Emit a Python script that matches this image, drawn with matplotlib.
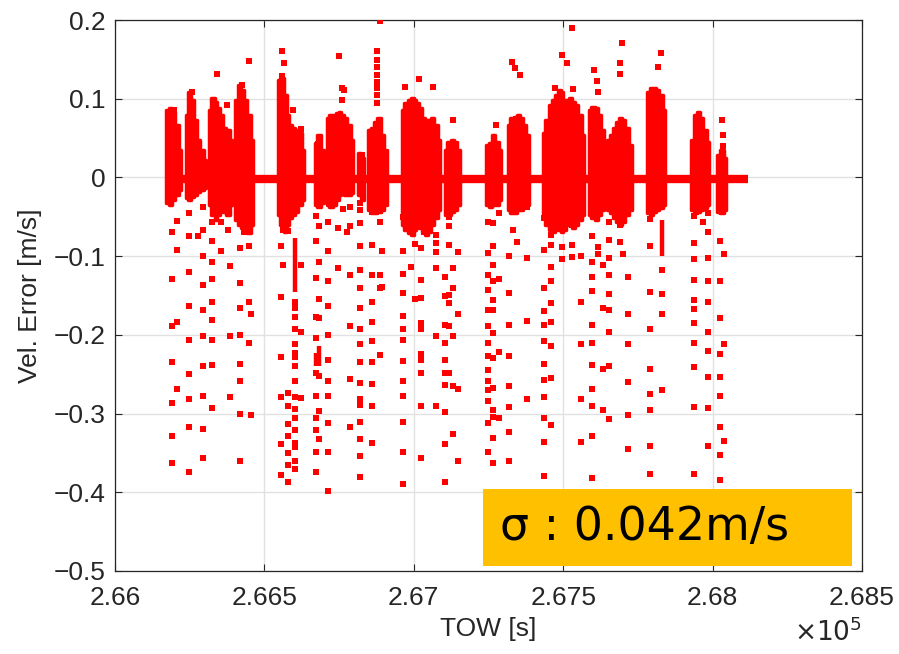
import matplotlib
matplotlib.use('Agg')
import matplotlib.pyplot as plt
from matplotlib.patches import Rectangle
from matplotlib.ticker import FixedLocator

plt.rcParams['font.family'] = ['Liberation Sans', 'DejaVu Sans']
plt.rcParams['axes.unicode_minus'] = True

# ---------------- data ----------------
# near-zero band of the error
band_start, band_end, band_level = 266177, 268118, -0.002

# dense bursts: sample columns (time [s], upper, lower)
burst_t = [266177, 266187, 266197, 266207, 266217,
           266241, 266251, 266261, 266271, 266281, 266291, 266301,
           266318, 266328, 266338, 266348, 266358, 266368, 266378, 266388,
           266408, 266418, 266428, 266438, 266448, 266458,
           266549, 266559, 266569, 266579, 266589, 266599, 266609, 266619, 266629,
           266673, 266683, 266693,
           266713, 266723, 266733, 266743, 266753, 266763, 266773, 266783, 266793,
           266817, 266830,
           266853, 266863, 266873, 266884, 266894, 266904,
           266964, 266974, 266984, 266994, 267004, 267014, 267024, 267034, 267044,
           267054, 267064, 267074, 267084,
           267108, 267118, 267128, 267138, 267148,
           267248, 267258, 267268, 267278, 267288,
           267319, 267329, 267339, 267349, 267359, 267369, 267379,
           267436, 267446, 267456, 267466, 267476, 267486, 267496, 267506, 267516,
           267526, 267536, 267546, 267556, 267566,
           267590, 267600, 267610, 267620, 267630,
           267653, 267663, 267673, 267683, 267693, 267703, 267713, 267724,
           267787, 267797, 267807, 267817, 267827, 267837,
           267934, 267944, 267954, 267964, 267974, 267984,
           268021, 268031, 268041]
burst_hi = [0.086, 0.088, 0.083, 0.067, 0.035,
            0.079, 0.108, 0.098, 0.073, 0.048, 0.035, 0.022,
            0.086, 0.101, 0.096, 0.088, 0.079, 0.063, 0.060, 0.048,
            0.098, 0.117, 0.111, 0.098, 0.079, 0.048,
            0.124, 0.126, 0.105, 0.079, 0.067, 0.063, 0.060, 0.056, 0.035,
            0.044, 0.054, 0.035,
            0.075, 0.079, 0.079, 0.082, 0.083, 0.079, 0.075, 0.067, 0.048,
            0.031, 0.025,
            0.060, 0.063, 0.070, 0.075, 0.054, 0.035,
            0.086, 0.094, 0.098, 0.101, 0.098, 0.094, 0.088, 0.075, 0.073,
            0.073, 0.075, 0.067, 0.048,
            0.035, 0.045, 0.048, 0.045, 0.035,
            0.041, 0.044, 0.054, 0.045, 0.035,
            0.067, 0.075, 0.077, 0.079, 0.075, 0.067, 0.054,
            0.056, 0.073, 0.092, 0.098, 0.105, 0.111, 0.108, 0.098, 0.098,
            0.101, 0.096, 0.092, 0.079, 0.054,
            0.086, 0.090, 0.088, 0.079, 0.060,
            0.048, 0.054, 0.063, 0.070, 0.075, 0.073, 0.063, 0.041,
            0.108, 0.114, 0.114, 0.111, 0.105, 0.086,
            0.048, 0.079, 0.083, 0.075, 0.060, 0.045,
            0.029, 0.035, 0.025]
burst_lo = [-0.032, -0.035, -0.029, -0.022, -0.016,
            -0.026, -0.029, -0.025, -0.022, -0.018, -0.016, -0.013,
            -0.035, -0.048, -0.054, -0.048, -0.041, -0.044, -0.048, -0.035,
            -0.054, -0.060, -0.064, -0.067, -0.070, -0.060,
            -0.048, -0.060, -0.069, -0.060, -0.051, -0.048, -0.044, -0.035, -0.029,
            -0.035, -0.037, -0.032,
            -0.035, -0.037, -0.035, -0.029, -0.022, -0.020, -0.022, -0.022, -0.020,
            -0.022, -0.029,
            -0.041, -0.045, -0.045, -0.044, -0.041, -0.035,
            -0.060, -0.067, -0.070, -0.073, -0.067, -0.060, -0.064, -0.069, -0.073,
            -0.069, -0.060, -0.051, -0.041,
            -0.048, -0.048, -0.044, -0.041, -0.035,
            -0.035, -0.037, -0.035, -0.035, -0.029,
            -0.041, -0.045, -0.045, -0.041, -0.041, -0.037, -0.035,
            -0.048, -0.060, -0.067, -0.069, -0.064, -0.067, -0.069, -0.067, -0.060,
            -0.060, -0.064, -0.060, -0.054, -0.048,
            -0.048, -0.051, -0.054, -0.048, -0.041,
            -0.041, -0.045, -0.051, -0.056, -0.060, -0.056, -0.048, -0.041,
            -0.045, -0.048, -0.044, -0.041, -0.039, -0.035,
            -0.041, -0.045, -0.044, -0.041, -0.039, -0.035,
            -0.044, -0.045, -0.041]

# continuous runs of samples (time, upper, lower)
run_t = [266602, 266673, 266683, 267832]
run_hi = [-0.077, -0.223, -0.214, -0.054]
run_lo = [-0.145, -0.240, -0.240, -0.100]

# scattered negative outliers, grouped by time column
col_t = [266190, 266207, 266249, 266279, 266294, 266326, 266355, 266379, 266386,
         266418, 266433, 266448, 266455, 266556, 266563, 266580, 266602, 266621,
         266673, 266683, 266712, 266747, 266764, 266775, 266786, 266820, 266859,
         266887, 266895, 266965, 266991, 267004, 267024, 267035, 267074, 267104,
         267118, 267130, 267147, 267247, 267266, 267286, 267320, 267333, 267344,
         267380, 267437, 267458, 267495, 267528, 267560, 267597, 267615, 267632,
         267653, 267690, 267700, 267717, 267790, 267832, 267938, 267967, 267984,
         268025, 268038]
col_v = [
    [-0.069, -0.129, -0.189, -0.235, -0.286, -0.328, -0.363],
    [-0.055, -0.092, -0.184, -0.269],
    [-0.045, -0.075, -0.120, -0.163, -0.206, -0.250, -0.281, -0.317, -0.374],
    [-0.074],
    [-0.038, -0.067, -0.100, -0.137, -0.169, -0.202, -0.239, -0.278, -0.319, -0.357],
    [-0.057, -0.081, -0.107, -0.129, -0.158, -0.181, -0.206, -0.238, -0.293],
    [-0.057, -0.093],
    [-0.067],
    [-0.112, -0.201, -0.279],
    [-0.050, -0.090, -0.134, -0.166, -0.200, -0.237, -0.259, -0.300, -0.360],
    [-0.069],
    [-0.087, -0.158, -0.210],
    [-0.174, -0.302],
    [-0.087, -0.152, -0.228, -0.279, -0.339, -0.378],
    [-0.111, -0.067],
    [-0.068, -0.274, -0.291, -0.313, -0.329, -0.350, -0.365, -0.387],
    [-0.158, -0.166, -0.177, -0.193, -0.212, -0.223, -0.228, -0.239, -0.259,
     -0.279, -0.294, -0.305, -0.321, -0.337, -0.343, -0.360, -0.371],
    [-0.111, -0.197, -0.280],
    [-0.049, -0.081, -0.128, -0.177, -0.204, -0.248, -0.278, -0.306, -0.321, -0.349, -0.374],
    [-0.062, -0.107, -0.155, -0.179, -0.252, -0.297, -0.332],
    [-0.056, -0.093, -0.131, -0.163, -0.200, -0.232, -0.259, -0.278, -0.312, -0.349, -0.398],
    [-0.064, -0.115],
    [-0.040],
    [-0.069],
    [-0.038, -0.062, -0.124, -0.189, -0.256, -0.317],
    [-0.032, -0.041, -0.058, -0.087, -0.117, -0.141, -0.166, -0.193, -0.212, -0.235,
     -0.261, -0.282, -0.289, -0.311, -0.332, -0.354, -0.380],
    [-0.044, -0.086, -0.124, -0.158, -0.184, -0.208, -0.235, -0.263, -0.291, -0.337],
    [-0.043, -0.057, -0.124, -0.141, -0.225],
    [-0.094, -0.139],
    [-0.050, -0.093, -0.123, -0.147, -0.176, -0.192, -0.207, -0.233, -0.258, -0.278,
     -0.311, -0.349, -0.389],
    [-0.114],
    [-0.084, -0.155],
    [-0.090, -0.130, -0.153, -0.185, -0.193, -0.224, -0.232, -0.249, -0.290, -0.356],
    [-0.058, -0.069],
    [-0.073, -0.083, -0.095, -0.115, -0.201, -0.290],
    [-0.126, -0.151, -0.188, -0.210, -0.232, -0.248, -0.264, -0.298, -0.339, -0.387],
    [-0.050, -0.062, -0.086, -0.149, -0.160, -0.189, -0.248],
    [-0.115, -0.141, -0.202, -0.265, -0.326],
    [-0.095, -0.174, -0.269, -0.360],
    [-0.056, -0.096, -0.124, -0.143, -0.168, -0.189, -0.210, -0.227, -0.245, -0.259,
     -0.270, -0.284, -0.312, -0.349],
    [-0.058, -0.087, -0.111, -0.132, -0.156, -0.168, -0.198, -0.229, -0.267, -0.295,
     -0.304, -0.331, -0.363],
    [-0.045, -0.129, -0.222, -0.305],
    [-0.100, -0.147, -0.188, -0.227, -0.265, -0.292, -0.324, -0.360],
    [-0.067],
    [-0.082],
    [-0.037, -0.102, -0.182, -0.282],
    [-0.052, -0.092, -0.140, -0.170, -0.188, -0.208, -0.237, -0.257, -0.279, -0.306,
     -0.336, -0.379],
    [-0.057, -0.073, -0.086, -0.114, -0.132, -0.160, -0.184, -0.214, -0.255, -0.314],
    [-0.088, -0.103],
    [-0.050, -0.060, -0.086, -0.101],
    [-0.100, -0.158, -0.212, -0.281, -0.336],
    [-0.075, -0.107, -0.126, -0.144, -0.187, -0.210, -0.238, -0.269, -0.291, -0.328, -0.382],
    [-0.088, -0.097],
    [-0.111, -0.166, -0.243, -0.296],
    [-0.056, -0.079, -0.102, -0.124, -0.148, -0.169, -0.196, -0.239, -0.307],
    [-0.060, -0.082],
    [-0.097],
    [-0.127, -0.174, -0.212, -0.260, -0.302, -0.345],
    [-0.053, -0.087, -0.145, -0.193, -0.243, -0.275, -0.296, -0.341, -0.377],
    [-0.118, -0.148, -0.174, -0.270],
    [-0.049, -0.083, -0.104, -0.130, -0.156, -0.167, -0.185, -0.210, -0.241, -0.292, -0.377],
    [-0.056],
    [-0.045, -0.069, -0.102, -0.132, -0.158, -0.196, -0.220, -0.253, -0.293, -0.341],
    [-0.081, -0.131, -0.178, -0.224, -0.253, -0.278, -0.317, -0.352, -0.384],
    [-0.097, -0.212, -0.335],
]

# scattered positive outliers
upper_t = [266887, 266449, 266558, 266567, 266558, 266751, 266878, 266878, 266878,
           266878, 266878, 266878, 266878, 266878, 266340, 266257, 266197, 266374,
           266424, 266595, 266622, 266678, 266826, 266759, 266759, 266765, 267528,
           267698, 267690, 267690, 267495, 267512, 267018, 266971, 267063, 267132,
           267328, 267339, 267355, 267275, 267603, 267612, 267617, 267472, 267532,
           267827, 267816, 268032, 268036, 268036]
upper_v = [0.1985, 0.148, 0.160, 0.146, 0.129, 0.154, 0.160, 0.149, 0.140,
           0.130, 0.121, 0.113, 0.105, 0.094, 0.131, 0.109, 0.086, 0.092,
           0.117, 0.086, 0.062, 0.043, 0.029, 0.114, 0.098, 0.111, 0.190,
           0.171, 0.145, 0.132, 0.155, 0.146, 0.125, 0.115, 0.115, 0.073,
           0.147, 0.139, 0.130, 0.067, 0.136, 0.122, 0.109, 0.113, 0.112,
           0.158, 0.140, 0.073, 0.054, 0.040]

x_ticks = [266000, 266500, 267000, 267500, 268000, 268500]
x_ticklabels = ['2.66', '2.665', '2.67', '2.675', '2.68', '2.685']
y_ticks = [0.2, 0.1, 0.0, -0.1, -0.2, -0.3, -0.4, -0.5]
y_ticklabels = ['0.2', '0.1', '0', '\u22120.1', '\u22120.2', '\u22120.3', '\u22120.4', '\u22120.5']
sigma_text = '\u03c3 : 0.042m/s'

# ---------------- drawing ----------------
RED = '#ff0000'
TXT = '#262626'
fig = plt.figure(figsize=(8.99, 6.54), dpi=100)
ax = fig.add_axes([115 / 899, 1 - 571 / 654, (862 - 115) / 899, (571 - 20) / 654])

ax.hlines(band_level, band_start, band_end, colors=RED, linewidth=6.0, zorder=3)

# group burst columns into contiguous bursts and fill each as one polygon
groups = []
cur = [0]
for i in range(1, len(burst_t)):
    if burst_t[i] - burst_t[i - 1] <= 15:
        cur.append(i)
    else:
        groups.append(cur)
        cur = [i]
groups.append(cur)
for g in groups:
    gt = [burst_t[i] for i in g]
    if len(gt) > 1:
        gt = [gt[0] - 5] + gt[1:-1] + [gt[-1] + 5]
    ax.fill_between(gt, [burst_lo[i] for i in g], [burst_hi[i] for i in g],
                    step='mid', facecolor=RED, edgecolor=RED, linewidth=2.5, zorder=3)

ax.vlines(run_t, run_lo, run_hi, colors=RED, linewidth=3.2, zorder=3)

pts_t, pts_v = [], []
for t, vs in zip(col_t, col_v):
    for v in vs:
        pts_t.append(t)
        pts_v.append(v)
ax.plot(pts_t, pts_v, 's', color=RED, ms=3.9, mew=0, linestyle='none', zorder=3)
ax.plot(upper_t, upper_v, 's', color=RED, ms=3.9, mew=0, linestyle='none', zorder=3)

ax.set_xlim(266000, 268500)
ax.set_ylim(-0.5, 0.2)
ax.xaxis.set_major_locator(FixedLocator(x_ticks))
ax.set_xticklabels(x_ticklabels)
ax.yaxis.set_major_locator(FixedLocator(y_ticks))
ax.set_yticklabels(y_ticklabels)

ax.grid(True, color='#e1e1e1', linewidth=1.0, zorder=0)
ax.set_axisbelow(True)
for s in ax.spines.values():
    s.set_color(TXT)
    s.set_linewidth(0.9)
ax.tick_params(direction='in', top=True, right=True, length=5, width=0.8,
               colors=TXT, labelsize=19)
ax.tick_params(axis='x', pad=11)
ax.tick_params(axis='y', pad=7)

ax.set_xlabel('TOW [s]', fontsize=19, color=TXT, labelpad=5)
ax.set_ylabel('Vel. Error [m/s]', fontsize=19, color=TXT, labelpad=8)
ax.text(1.0, -0.085, r'$\times10^{5}$', transform=ax.transAxes, ha='right', va='top',
        fontsize=19, color=TXT)

ax.add_patch(Rectangle((483 / 899, 1 - 566 / 654), (852 - 483) / 899, (566 - 489) / 654,
                       transform=fig.transFigure, facecolor='#ffc000', edgecolor='none',
                       zorder=10, clip_on=False))
fig.text(500 / 899, 1 - 527 / 654, sigma_text, fontsize=33, color='black',
         family=['DejaVu Sans'], ha='left', va='center', zorder=11)

fig.savefig('out.png', dpi=100)
